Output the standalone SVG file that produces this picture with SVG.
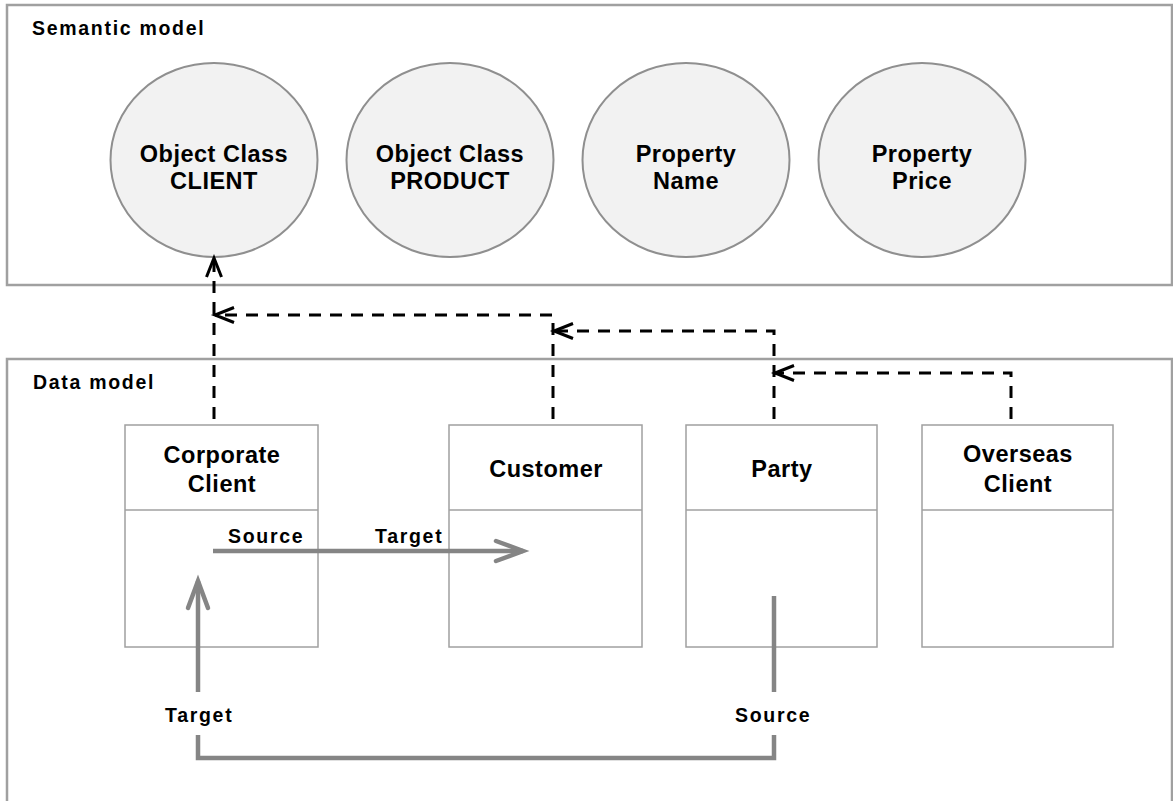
<svg xmlns="http://www.w3.org/2000/svg" width="1173" height="801" viewBox="0 0 1173 801">
<style>
.container{fill:#fff;stroke:#a0a0a0;stroke-width:2.5}
.circ{fill:#f2f2f2;stroke:#8f8f8f;stroke-width:2}
.box{fill:#fff;stroke:#a0a0a0;stroke-width:1.5}
.div{stroke:#a0a0a0;stroke-width:1.5}
.big{font-family:"Liberation Sans",Arial,sans-serif;font-weight:bold;font-size:23.5px;letter-spacing:0.5px;fill:#000;text-anchor:middle}
.small{font-family:"Liberation Sans",Arial,sans-serif;font-weight:bold;font-size:19.5px;letter-spacing:1.7px;fill:#000}
.dash{fill:none;stroke:#000;stroke-width:3;stroke-dasharray:12 9}
.gray{fill:none;stroke:#858585;stroke-width:4.5}
</style>
<defs>
<marker id="openBlack" markerUnits="userSpaceOnUse" markerWidth="40" markerHeight="40" viewBox="-30 -20 40 40" refX="0" refY="0" orient="auto">
<path d="M-19,-7.5 L0,0 L-19,7.5" fill="none" stroke="#000" stroke-width="3"/>
</marker>
<marker id="openGray" markerUnits="userSpaceOnUse" markerWidth="50" markerHeight="50" viewBox="-40 -25 50 50" refX="0" refY="0" orient="auto">
<path d="M-27,-10 L0,0 L-27,10" fill="none" stroke="#858585" stroke-width="4.5" stroke-linecap="round"/>
</marker>
</defs>
<rect width="1173" height="801" fill="#fff"/>
<g id="semantic-model">
<rect class="container" x="7" y="5" width="1165" height="280"/>
<text class="small" x="32" y="35">Semantic model</text>
</g>
<g id="data-model">
<rect class="container" x="7" y="359" width="1165" height="460"/>
<text class="small" x="33" y="389">Data model</text>
</g>
<g id="oc-client">
<ellipse class="circ" cx="214" cy="160" rx="103.5" ry="97"/>
<text class="big" x="214" y="162">Object Class</text>
<text class="big" x="214" y="189">CLIENT</text>
</g>
<g id="oc-product">
<ellipse class="circ" cx="450" cy="160" rx="103.5" ry="97"/>
<text class="big" x="450" y="162">Object Class</text>
<text class="big" x="450" y="189">PRODUCT</text>
</g>
<g id="prop-name">
<ellipse class="circ" cx="686" cy="160" rx="103.5" ry="97"/>
<text class="big" x="686" y="162">Property</text>
<text class="big" x="686" y="189">Name</text>
</g>
<g id="prop-price">
<ellipse class="circ" cx="922" cy="160" rx="103.5" ry="97"/>
<text class="big" x="922" y="162">Property</text>
<text class="big" x="922" y="189">Price</text>
</g>
<g id="corporate-client">
<rect class="box" x="125" y="425" width="193" height="222"/>
<line class="div" x1="125" y1="510" x2="318" y2="510"/>
<text class="big" x="222" y="463">Corporate</text>
<text class="big" x="222" y="492">Client</text>
</g>
<g id="customer">
<rect class="box" x="449" y="425" width="193" height="222"/>
<line class="div" x1="449" y1="510" x2="642" y2="510"/>
<text class="big" x="546" y="477">Customer</text>
</g>
<g id="party">
<rect class="box" x="686" y="425" width="191" height="222"/>
<line class="div" x1="686" y1="510" x2="877" y2="510"/>
<text class="big" x="782" y="477">Party</text>
</g>
<g id="overseas-client">
<rect class="box" x="922" y="425" width="191" height="222"/>
<line class="div" x1="922" y1="510" x2="1113" y2="510"/>
<text class="big" x="1018" y="462">Overseas</text>
<text class="big" x="1018" y="492">Client</text>
</g>
<g id="connectors">
<path class="dash" d="M214,419 V258" marker-end="url(#openBlack)"/>
<path class="dash" d="M553,419 V315 H215" marker-end="url(#openBlack)"/>
<path class="dash" d="M774,419 V331 H554" marker-end="url(#openBlack)"/>
<path class="dash" d="M1011,419 V373 H775" marker-end="url(#openBlack)"/>
<path class="gray" d="M213,551 H523" marker-end="url(#openGray)"/>
<path class="gray" d="M198,692 V581" marker-end="url(#openGray)"/>
<path class="gray" d="M198,735 V758 H774 V735"/>
<path class="gray" d="M774,692 V596"/>
<text class="small" x="228" y="543">Source</text>
<text class="small" x="375" y="543">Target</text>
<text class="small" x="165" y="722">Target</text>
<text class="small" x="735" y="722">Source</text>
</g>
</svg>
